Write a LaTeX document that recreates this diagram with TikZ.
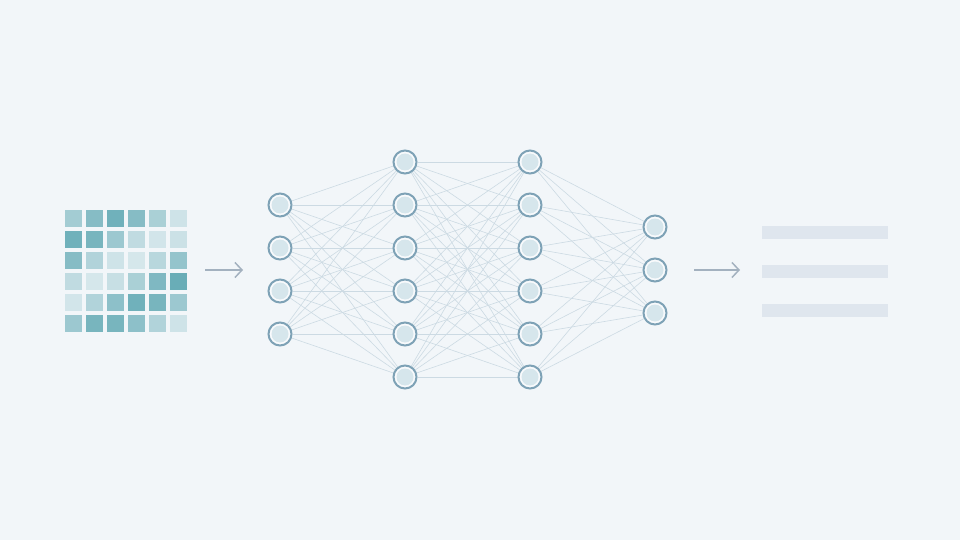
\documentclass[tikz,border=0pt]{standalone}
\usepackage{tikz}
\usetikzlibrary{arrows.meta,backgrounds}

\definecolor{bgc}{HTML}{F2F6F9}
\definecolor{cellc}{HTML}{62A9B4}
\definecolor{ringc}{HTML}{7EA2B6}
\definecolor{corec}{HTML}{D6E6EC}
\definecolor{wirec}{HTML}{CCDAE3}
\definecolor{arrowc}{HTML}{A3B1BF}
\definecolor{barc}{HTML}{DFE6EE}

\tikzset{
  neuron/.style={circle, draw=ringc, line width=2pt, fill=bgc!50!white,
    minimum size=23pt, inner sep=0pt,
    path picture={\fill[corec] (path picture bounding box.center) circle (8.5pt);}},
  wire/.style={draw=wirec, line width=0.6pt},
  flow/.style={draw=arrowc, line width=1.5pt, -{Straight Barb[length=7pt,width=15pt]}},
}

\begin{document}
\begin{tikzpicture}[x=1pt,y=-1pt]
% input grid
\foreach \row [count=\r] in {{55,75,90,75,50,25},{90,85,60,35,22,27},{75,45,25,20,40,65},{35,20,30,50,80,95},{22,45,70,90,85,60},{60,85,85,70,45,25}}
  \foreach \v [count=\c] in \row
    \fill[cellc!\v!bgc] (44+21*\c,189+21*\r) rectangle +(17,17);

% layers
\foreach \i/\y in {1/205,2/248,3/291,4/334}
  \node[neuron] (a\i) at (280,\y) {};
\foreach \i/\y in {1/162,2/205,3/248,4/291,5/334,6/377}
  \node[neuron] (b\i) at (405,\y) {};
\foreach \i/\y in {1/162,2/205,3/248,4/291,5/334,6/377}
  \node[neuron] (c\i) at (530,\y) {};
\foreach \i/\y in {1/227,2/270,3/313}
  \node[neuron] (d\i) at (655,\y) {};

\begin{scope}[on background layer]
\fill[bgc] (0,0) rectangle (960,540);
\foreach \i in {1,...,4}
  \foreach \j in {1,...,6}
    \draw[wire] (a\i) -- (b\j);
\foreach \i in {1,...,6}
  \foreach \j in {1,...,6}
    \draw[wire] (b\i) -- (c\j);
\foreach \i in {1,...,6}
  \foreach \j in {1,...,3}
    \draw[wire] (c\i) -- (d\j);
\end{scope}

% arrows
\coordinate (inL) at (205,270);
\coordinate (inR) at (243,270);
\coordinate (outL) at (694,270);
\coordinate (outR) at (740,270);
\draw[flow] (inL) -- (inR);
\draw[flow] (outL) -- (outR);

% output bars
\foreach \y in {226,265,304}
  \fill[barc] (762,\y) rectangle (888,\y+13);

\end{tikzpicture}
\end{document}
